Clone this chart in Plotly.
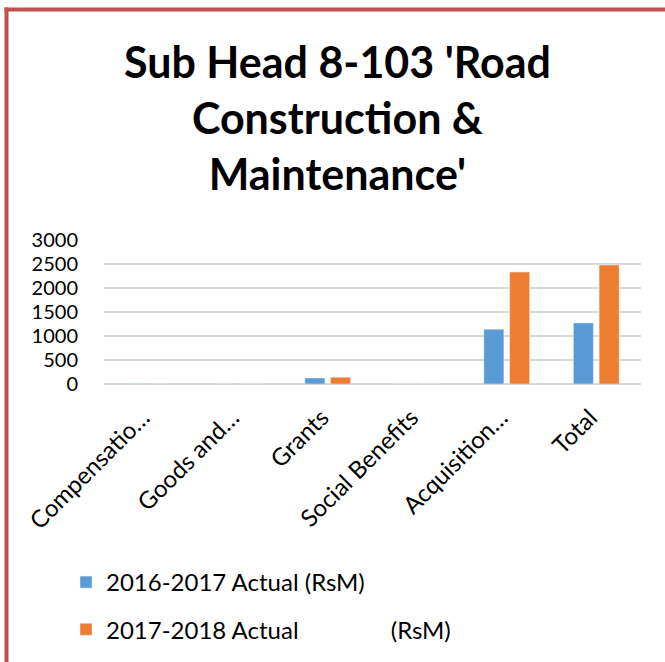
import plotly.graph_objects as go

categories = ["Compensatio…", "Goods and…", "Grants", "Social Benefits", "Acquisition…", "Total"]
actual_2016_17 = [5, 2, 125, 0, 1139, 1271]
actual_2017_18 = [4, 2, 140, 0, 2333, 2479]
series_names = ["2016-2017 Actual (RsM)",
                "2017-2018 Actual" + "\u00a0" * 15 + "(RsM)"]
y_ticks = [0, 500, 1000, 1500, 2000, 2500, 3000]
title_text = "<b>Sub Head 8-103 'Road<br>Construction &amp;<br>Maintenance'</b>"

W, H = 665, 662
L, R, T, B = 104, 24, 240, 278
pw, ph = W - L - R, H - T - B

def px(x):
    return (x - L) / pw

def py(y):
    return (H - B - y) / ph

FONT = "Lato, Carlito, 'Open Sans', sans-serif"
FRAME = dict(color="#C0504D", width=4)

fig = go.Figure()
fig.add_trace(go.Bar(x=categories, y=actual_2016_17, name=series_names[0],
                     marker=dict(color="#5B9BD5"), legendgroup="a"))
fig.add_trace(go.Bar(x=categories, y=actual_2017_18, name=series_names[1],
                     marker=dict(color="#ED7D31"), legendgroup="b"))

fig.update_layout(
    width=W, height=H,
    margin=dict(l=L, r=R, t=T, b=B, autoexpand=False),
    paper_bgcolor="white", plot_bgcolor="white",
    font=dict(family=FONT, color="black"),
    bargap=0.424, bargroupgap=0.223,
    xaxis=dict(tickangle=-45, tickfont=dict(size=24, family=FONT),
               showline=False, ticks="", showgrid=False,
               ticklabelstandoff=14, ticklabelshift=-6),
    yaxis=dict(range=[0, 3000], tickvals=y_ticks, tickfont=dict(size=20, family=FONT),
               showgrid=True, gridcolor="#D9D9D9", gridwidth=2,
               zeroline=True, zerolinecolor="#D9D9D9", zerolinewidth=2,
               ticks="", ticklabelstandoff=25),
    legend=dict(x=px(66), y=py(560), xanchor="left", yanchor="top",
                font=dict(size=24, family=FONT), tracegroupgap=13,
                itemwidth=30, bgcolor="rgba(0,0,0,0)"),
    showlegend=True,
    annotations=[dict(text=title_text, xref="paper", yref="paper",
                      x=px(337), y=py(118), xanchor="center", yanchor="middle",
                      showarrow=False, align="center",
                      font=dict(size=43, family=FONT, color="black"))],
    shapes=[
        dict(type="line", xref="paper", yref="paper",
             x0=px(4.5), x1=px(700), y0=py(9.5), y1=py(9.5),
             line=FRAME, layer="above"),
        dict(type="line", xref="paper", yref="paper",
             x0=px(6.5), x1=px(6.5), y0=py(7.5), y1=py(700),
             line=FRAME, layer="above"),
    ],
)

fig.write_html("out.html", config={"displayModeBar": False},
               post_script="document.body.style.margin='0';document.body.style.overflow='hidden';")
